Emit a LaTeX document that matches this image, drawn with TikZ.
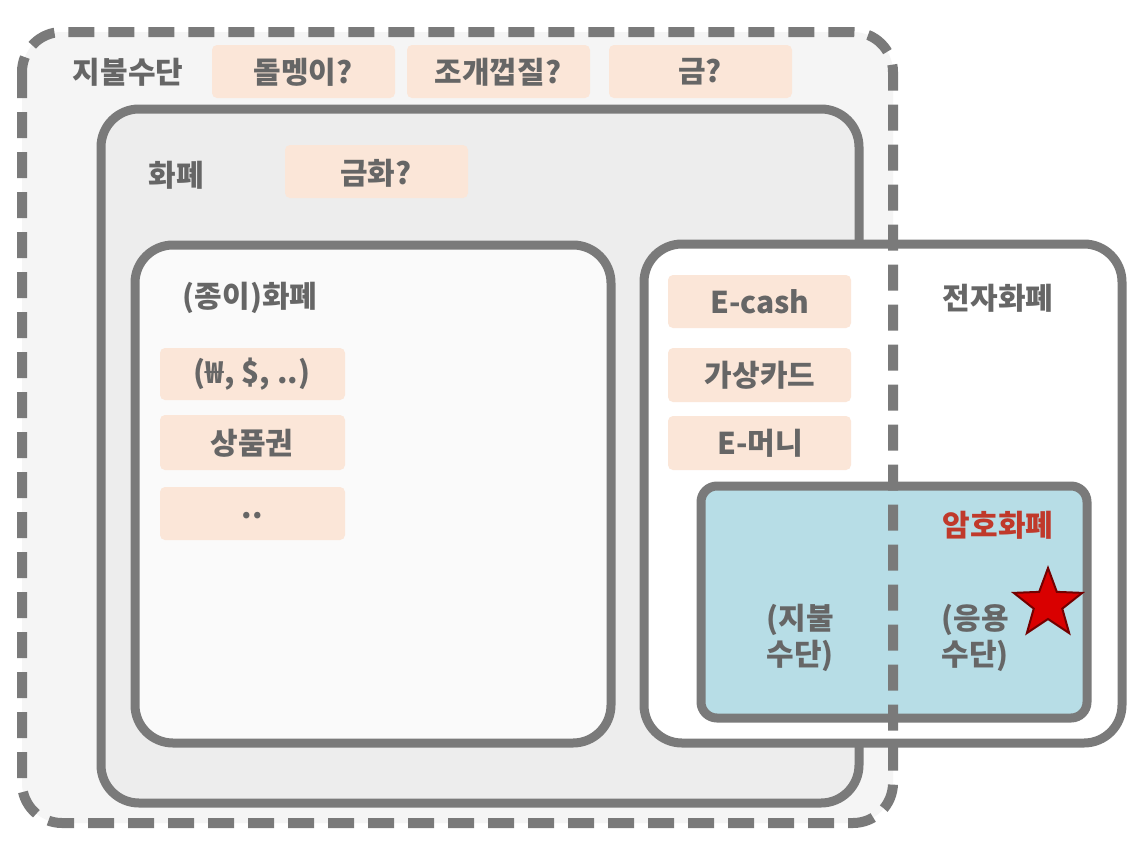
\documentclass[tikz,border=0pt]{standalone}
\usepackage{fontspec}
\setmainfont{Noto Sans CJK KR}
\usetikzlibrary{shapes.geometric}
\definecolor{txt}{HTML}{666666}
\definecolor{lin}{HTML}{7A7A7A}
\definecolor{tagc}{HTML}{FBE6D8}
\definecolor{bluec}{HTML}{B7DDE6}
\definecolor{redc}{HTML}{C0392B}
\tikzset{
  box/.style={draw=lin, line width=9pt, rounded corners=38pt},
  tag/.style={fill=tagc, rounded corners=5pt},
  lbl/.style={text=txt, font=\bfseries\fontsize{30}{36}\selectfont, align=center, inner sep=0pt},
}
\begin{document}
\begin{tikzpicture}[x=1pt,y=-1pt]
\useasboundingbox (0,0) rectangle (1141,849);
\fill[white] (0,0) rectangle (1141,849);
% outer fill
\fill[fill=black!4, rounded corners=40pt] (22,32) rectangle (893,823);
\node[lbl] (t0) at (128,72) {지불수단};
\fill[tag] (212,45) rectangle (395,98); \node[lbl] (t1) at (303,72) {돌멩이?};
\fill[tag] (407,45) rectangle (590,98); \node[lbl] (t2) at (498,72) {조개껍질?};
\fill[tag] (609,45) rectangle (792,98); \node[lbl] (t3) at (700,72) {금?};
% money
\draw[box, fill=black!7] (101,109) rectangle (859,803);
\node[lbl] (m0) at (176,175) {화폐};
\fill[tag] (285,145) rectangle (468,198); \node[lbl] (m1) at (376,173) {금화?};
% paper
\draw[box, fill=black!2] (135,245) rectangle (611,743);
\node[lbl] (p0) at (250,298) {(종이)화폐};
\fill[tag] (160,348) rectangle (345,400); \node[lbl] (p1) at (252,374) {(₩, \$, ..)};
\fill[tag] (160,415) rectangle (345,470); \node[lbl] (p2) at (252,443) {상품권};
\fill[tag] (160,487) rectangle (345,540); \node[lbl] (p3) at (252,516) {..};
% electronic
\draw[box, fill=white] (644,244) rectangle (1122,743);
\node[lbl] (e0) at (998,298) {전자화폐};
\fill[tag] (668,275) rectangle (851,328); \node[lbl] (e1) at (760,302) {E-cash};
\fill[tag] (668,348) rectangle (851,402); \node[lbl] (e2) at (760,375) {가상카드};
\fill[tag] (668,416) rectangle (851,470); \node[lbl] (e3) at (760,443) {E-머니};
% crypto
\draw[draw=lin, line width=9pt, rounded corners=16pt, fill=bluec] (701,486) rectangle (1087,718);
\node[lbl, text=redc] (c0) at (998,525) {암호화폐};
\node[lbl] (c1) at (800,638) {(지불\\수단)};
\node[lbl] (c2) at (975,638) {(응용\\수단)};
\node[star, star points=5, star point ratio=2.4, minimum size=72pt, fill=red!85!black, draw=red!45!black, line width=2pt, inner sep=0pt] (st) at (1048,604) {};
% outer dashed stroke
\draw[draw=lin, line width=10pt, dash pattern=on 26pt off 14pt, rounded corners=40pt] (22,32) rectangle (893,823);
\end{tikzpicture}
\end{document}
